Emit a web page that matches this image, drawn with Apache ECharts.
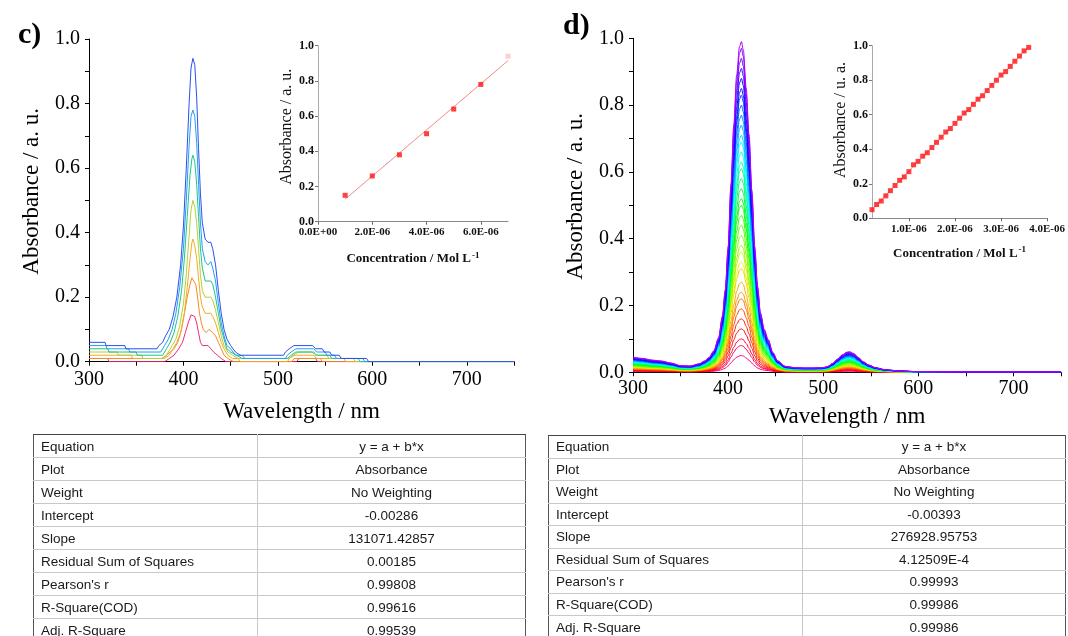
<!DOCTYPE html>
<html>
<head>
<meta charset="utf-8">
<script src="https://cdn.jsdelivr.net/npm/echarts@6.0.0/dist/echarts.min.js"></script>
<style>
html,body{margin:0;padding:0;background:#fff;}
#wrap{position:relative;width:1068px;height:636px;overflow:hidden;background:#fff;}
#chart{position:absolute;left:0;top:0;width:1068px;height:636px;}
.tbl{position:absolute;border-collapse:collapse;table-layout:fixed;font-family:"Liberation Sans",Arial,sans-serif;font-size:13.5px;color:#1a1a1a;border-top:1.5px solid #444;border-left:1.5px solid #555;border-right:1.5px solid #555;}
.tbl td{padding:0;line-height:21px;border-top:1px solid #c8c8c8;white-space:nowrap;overflow:hidden;box-sizing:border-box;}
.tbl td.k{padding-left:7px;text-align:left;border-right:1px solid #c8c8c8;}
.tbl td.v{text-align:center;}
</style>
</head>
<body>
<div id="wrap">
  <div id="chart"></div>
</div>
<script>
// ---------------- DATA ----------------
// Panel c: UV-vis spectra ([wavelength nm, absorbance])
const specC_magenta = [[300,0.01],[320,0.01],[321,0],[380,0],[385,0.01],[390,0.02],[395,0.04],[399,0.06],[402,0.09],[405,0.12],[408,0.145],[410,0.15],[412,0.14],[414,0.12],[416,0.09],[418,0.06],[420,0.05],[426,0.05],[429,0.04],[432,0.03],[436,0.02],[440,0.01],[445,0],[520,0],[522,0.01],[540,0.01],[542,0],[750,0]];
const specC_orange = [[300,0.01],[377,0.01],[382,0.02],[386,0.03],[390,0.04],[394,0.06],[398,0.10],[401,0.15],[404,0.20],[407,0.24],[409,0.26],[411,0.26],[413,0.24],[415,0.20],[417,0.15],[419,0.12],[421,0.10],[424,0.09],[427,0.10],[429,0.10],[431,0.09],[434,0.08],[437,0.06],[440,0.04],[443,0.02],[447,0.01],[453,0],[515,0],[517,0.01],[545,0.01],[547,0],[750,0]];
const specC_amber = [[300,0.02],[345,0.02],[346,0.01],[380,0.01],[385,0.02],[389,0.04],[393,0.06],[397,0.09],[401,0.15],[404,0.23],[407,0.32],[409,0.37],[410,0.38],[412,0.36],[414,0.32],[416,0.26],[418,0.20],[420,0.17],[423,0.15],[426,0.15],[429,0.15],[431,0.14],[434,0.12],[437,0.09],[440,0.06],[443,0.04],[447,0.02],[452,0.01],[458,0.01],[460,0],[510,0],[512,0.01],[518,0.02],[538,0.02],[541,0.01],[570,0.01],[572,0],[750,0]];
const specC_lime = [[300,0.03],[330,0.03],[331,0.02],[356,0.02],[357,0.01],[380,0.01],[384,0.03],[388,0.05],[392,0.07],[396,0.11],[400,0.18],[403,0.27],[406,0.39],[408,0.47],[410,0.50],[412,0.48],[414,0.43],[416,0.35],[418,0.27],[420,0.22],[423,0.20],[426,0.20],[429,0.20],[431,0.19],[434,0.16],[437,0.12],[440,0.08],[443,0.05],[447,0.03],[452,0.02],[458,0.01],[512,0.01],[516,0.02],[522,0.03],[536,0.03],[540,0.02],[552,0.02],[554,0.01],[580,0.01],[582,0],[750,0]];
const specC_teal = [[300,0.04],[320,0.04],[321,0.03],[350,0.03],[351,0.02],[378,0.02],[382,0.04],[386,0.06],[390,0.09],[394,0.14],[398,0.22],[401,0.32],[404,0.45],[407,0.58],[409,0.63],[410,0.64],[412,0.62],[414,0.55],[416,0.45],[418,0.35],[420,0.29],[423,0.25],[426,0.25],[429,0.25],[431,0.24],[434,0.20],[437,0.15],[440,0.10],[443,0.07],[446,0.04],[450,0.03],[456,0.02],[462,0.01],[510,0.01],[514,0.02],[519,0.03],[538,0.03],[541,0.02],[555,0.02],[557,0.01],[585,0.01],[587,0],[750,0]];
const specC_sky = [[300,0.05],[318,0.05],[319,0.04],[342,0.04],[343,0.03],[376,0.03],[380,0.05],[384,0.07],[388,0.10],[392,0.15],[396,0.23],[400,0.35],[403,0.50],[406,0.67],[408,0.76],[410,0.78],[412,0.76],[414,0.68],[416,0.55],[418,0.43],[420,0.35],[423,0.31],[426,0.30],[429,0.31],[431,0.29],[434,0.25],[437,0.18],[440,0.12],[443,0.08],[446,0.05],[450,0.04],[455,0.02],[462,0.02],[465,0.01],[508,0.01],[510,0.02],[514,0.03],[519,0.04],[538,0.04],[541,0.03],[550,0.03],[552,0.02],[560,0.02],[562,0.01],[590,0.01],[592,0],[750,0]];
const specC_blue = [[300,0.06],[317,0.06],[318,0.05],[338,0.05],[339,0.04],[372,0.04],[374,0.05],[378,0.06],[381,0.08],[385,0.10],[389,0.14],[393,0.20],[397,0.30],[400,0.42],[403,0.60],[406,0.80],[408,0.91],[410,0.94],[412,0.92],[414,0.82],[416,0.66],[418,0.52],[420,0.43],[423,0.38],[426,0.37],[429,0.37],[431,0.35],[434,0.30],[437,0.22],[440,0.15],[443,0.10],[446,0.07],[450,0.05],[455,0.03],[460,0.02],[506,0.02],[508,0.03],[512,0.04],[517,0.05],[537,0.05],[540,0.04],[547,0.04],[549,0.03],[555,0.03],[557,0.02],[565,0.02],[567,0.01],[594,0.01],[596,0],[750,0]];

// Panel c inset: calibration (concentration in 1E-6 mol/L, absorbance)
const concC = [1, 2, 3, 4, 5, 6, 7];
const absC  = [0.15, 0.26, 0.38, 0.50, 0.64, 0.78, 0.94];
const fitC_x = [1, 7];
const fitC_y = [0.128, 0.915];
const cInsetXTicks  = [0, 2, 4, 6];
const cInsetXLabels = ['0.0E+00', '2.0E-06', '4.0E-06', '6.0E-06'];

// Panel d inset: calibration
const concD = [0.2,0.3,0.4,0.5,0.6,0.7,0.8,0.9,1.0,1.1,1.2,1.3,1.4,1.5,1.6,1.7,1.8,1.9,2.0,2.1,2.2,2.3,2.4,2.5,2.6,2.7,2.8,2.9,3.0,3.1,3.2,3.3,3.4,3.5,3.6];
const absD  = [0.05,0.08,0.10,0.13,0.16,0.19,0.22,0.24,0.27,0.31,0.33,0.36,0.38,0.41,0.44,0.47,0.50,0.52,0.55,0.58,0.61,0.63,0.66,0.69,0.71,0.74,0.77,0.80,0.83,0.85,0.88,0.91,0.94,0.97,0.99];
const fitD_x = [0.2, 3.6];
const fitD_y = [0.051, 0.993];
const dInsetXTicks  = [1, 2, 3, 4];
const dInsetXLabels = ['1.0E-06', '2.0E-06', '3.0E-06', '4.0E-06'];

// Panel d spectra: normalised band shape scaled by each sample's absorbance (absD)
const wlD = [300,310,320,330,340,350,360,370,375,380,385,390,394,397,400,403,406,409,412,414,416,419,422,425,428,431,434,438,442,447,452,460,470,480,490,500,505,510,515,520,525,528,532,537,542,548,555,565,580,600,650,700,750];
const shapeD = [0.046,0.042,0.037,0.034,0.028,0.020,0.019,0.026,0.034,0.045,0.065,0.105,0.17,0.25,0.38,0.57,0.75,0.90,0.985,1.0,0.975,0.86,0.72,0.55,0.38,0.26,0.18,0.13,0.10,0.06,0.035,0.018,0.014,0.013,0.013,0.014,0.018,0.027,0.04,0.053,0.061,0.062,0.057,0.045,0.032,0.022,0.014,0.008,0.004,0.002,0.001,0.001,0.001];

// Tables
const tableKeys = ['Equation','Plot','Weight','Intercept','Slope','Residual Sum of Squares',"Pearson's r",'R-Square(COD)','Adj. R-Square'];
const tableValsC = ['y = a + b*x','Absorbance','No Weighting','-0.00286','131071.42857','0.00185','0.99808','0.99616','0.99539'];
const tableValsD = ['y = a + b*x','Absorbance','No Weighting','-0.00393','276928.95753','4.12509E-4','0.99993','0.99986','0.99986'];

// ---------------- STYLE / BUILD ----------------
const SERIF = '"Liberation Serif","Times New Roman",serif';
const specC = [specC_magenta, specC_orange, specC_amber, specC_lime, specC_teal, specC_sky, specC_blue];
const colorsC = ['#ec2b7e', '#f48a25', '#f4aa22', '#b3d136', '#1fc482', '#1fa0f0', '#2d4ff3'];

function mainX(gi, gap, margin) {
  return {gridIndex: gi, type: 'value', min: 300, max: 750, interval: 50,
    axisLine: {show: true, onZero: false, lineStyle: {color: '#000', width: 1}},
    axisTick: {show: true, length: 4, lineStyle: {color: '#000'}},
    splitLine: {show: false},
    axisLabel: {margin: margin, fontFamily: SERIF, fontSize: 20, color: '#000',
      formatter: v => (Math.round(v) % 100 === 0 ? String(Math.round(v)) : '')},
    name: 'Wavelength / nm', nameLocation: 'middle', nameGap: gap,
    nameTextStyle: {fontFamily: SERIF, fontSize: 23, color: '#000'}};
}
function mainY(gi) {
  return {gridIndex: gi, type: 'value', min: 0, max: 1, interval: 0.1,
    axisLine: {show: true, onZero: false, lineStyle: {color: '#000', width: 1}},
    axisTick: {show: true, length: 4, lineStyle: {color: '#000'}},
    splitLine: {show: false},
    axisLabel: {margin: 9, fontFamily: SERIF, fontSize: 20, color: '#000',
      formatter: v => (Math.round(v * 10) % 2 === 0 ? v.toFixed(1) : '')},
    name: 'Absorbance / a. u.', nameLocation: 'middle', nameGap: 46, nameRotate: 90,
    nameTextStyle: {fontFamily: SERIF, fontSize: 23, color: '#000', padding: [0, 0, 0, 18]}};
}
function insetX(gi, min, max, ticks, labels, gap) {
  return {gridIndex: gi, type: 'value', min: min, max: max,
    axisLine: {show: true, onZero: false, lineStyle: {color: '#888', width: 1}},
    axisTick: {show: true, length: 3, customValues: ticks, lineStyle: {color: '#666'}},
    splitLine: {show: false},
    axisLabel: {margin: 5, customValues: ticks, fontFamily: SERIF, fontSize: 11, fontWeight: 'bold', color: '#111',
      formatter: v => { const i = ticks.findIndex(t => Math.abs(t - v) < 1e-6); return i >= 0 ? labels[i] : ''; }},
    name: '{b|Concentration / Mol L}{s|-1}', nameLocation: 'middle', nameGap: gap,
    nameTextStyle: {rich: {
      b: {fontFamily: SERIF, fontSize: 13, fontWeight: 'bold', color: '#111', lineHeight: 16},
      s: {fontFamily: SERIF, fontSize: 9, fontWeight: 'bold', color: '#111', verticalAlign: 'top', lineHeight: 16, padding: [0, 0, 8, 1]}
    }}};
}
function insetY(gi, name, gap, lift) {
  return {gridIndex: gi, type: 'value', min: 0, max: 1, interval: 0.2,
    axisLine: {show: true, onZero: false, lineStyle: {color: '#aaa', width: 1}},
    axisTick: {show: true, length: 3, lineStyle: {color: '#777'}},
    splitLine: {show: false},
    axisLabel: {margin: 4, fontFamily: SERIF, fontSize: 12, fontWeight: 'bold', color: '#111', formatter: v => v.toFixed(1)},
    name: name, nameLocation: 'middle', nameGap: gap, nameRotate: 90,
    nameTextStyle: {fontFamily: SERIF, fontSize: 16, color: '#111', padding: [0, 0, 0, lift]}};
}

const series = [];
specC.forEach((d, i) => series.push({type: 'line', xAxisIndex: 0, yAxisIndex: 0, data: d, symbol: 'none',
  lineStyle: {width: 1, color: colorsC[i]}, itemStyle: {color: colorsC[i]}, z: 2 + i}));

// inset c
series.push({type: 'line', xAxisIndex: 1, yAxisIndex: 1, symbol: 'none', data: fitC_x.map((x, i) => [x, fitC_y[i]]),
  lineStyle: {width: 1, color: '#f28a8a'}, z: 3});
series.push({type: 'scatter', xAxisIndex: 1, yAxisIndex: 1, symbol: 'rect', symbolSize: 5, clip: false,
  data: concC.map((x, i) => ({value: [x, absC[i]], itemStyle: {color: i === concC.length - 1 ? '#ffc4c4' : '#ff1010'}})), z: 4});

// d spectra
const nD = absD.length;
absD.forEach((a, i) => {
  const t = i / (nD - 1);
  const hue = (330 + 310 * t) % 360;
  const col = 'hsl(' + hue.toFixed(0) + ',100%,' + (hue > 40 && hue < 80 ? 47 : 50) + '%)';
  series.push({type: 'line', xAxisIndex: 2, yAxisIndex: 2, symbol: 'none', smooth: 0.3, smoothMonotone: 'x',
    data: wlD.map((w, k) => [w, +(shapeD[k] * a).toFixed(4)]),
    lineStyle: {width: 1, color: col}, itemStyle: {color: col}, z: 2});
});

// inset d
series.push({type: 'line', xAxisIndex: 3, yAxisIndex: 3, symbol: 'none', data: fitD_x.map((x, i) => [x, fitD_y[i]]),
  lineStyle: {width: 1, color: '#f7a0a0'}, z: 3});
series.push({type: 'scatter', xAxisIndex: 3, yAxisIndex: 3, symbol: 'rect', symbolSize: 5,
  data: concD.map((x, i) => [x, absD[i]]), itemStyle: {color: '#ff1010'}, z: 4});

const option = {
  animation: false,
  backgroundColor: '#fff',
  grid: [
    {left: 89, top: 39, width: 425, height: 322.7},
    {left: 318, top: 45.7, width: 190, height: 176},
    {left: 633, top: 38.3, width: 428, height: 334},
    {left: 872, top: 45.7, width: 180, height: 172.6}
  ],
  xAxis: [
    mainX(0, 39, 8),
    insetX(1, 0, 7, cInsetXTicks, cInsetXLabels, 29),
    mainX(2, 33, 6),
    insetX(3, 0.2, 4, dInsetXTicks, dInsetXLabels, 27)
  ],
  yAxis: [
    mainY(0),
    insetY(1, 'Absorbance / a. u.', 20, 14),
    mainY(2),
    insetY(3, 'Absorbance / u. a.', 21, 24)
  ],
  graphic: [
    {type: 'text', left: 18, top: 20, style: {text: 'c)', fontFamily: SERIF, fontSize: 30, fontWeight: 'bold', fill: '#000'}},
    {type: 'text', left: 563, top: 11, style: {text: 'd)', fontFamily: SERIF, fontSize: 30, fontWeight: 'bold', fill: '#000'}}
  ],
  series: series
};

const chart = echarts.init(document.getElementById('chart'), null, {renderer: 'canvas'});
chart.setOption(option);

function buildTable(left, top, width, col1, rowH, keys, vals) {
  const t = document.createElement('table');
  t.className = 'tbl';
  t.style.left = left + 'px';
  t.style.top = top + 'px';
  t.style.width = width + 'px';
  const cg = document.createElement('colgroup');
  const c1 = document.createElement('col'); c1.style.width = col1 + 'px';
  const c2 = document.createElement('col'); c2.style.width = (width - col1) + 'px';
  cg.appendChild(c1); cg.appendChild(c2); t.appendChild(cg);
  keys.forEach((k, i) => {
    const tr = document.createElement('tr');
    const a = document.createElement('td'); a.className = 'k'; a.textContent = k;
    const b = document.createElement('td'); b.className = 'v'; b.textContent = vals[i];
    a.style.height = rowH + 'px'; b.style.height = rowH + 'px';
    if (i === 0) { a.style.borderTop = 'none'; b.style.borderTop = 'none'; }
    tr.appendChild(a); tr.appendChild(b); t.appendChild(tr);
  });
  document.getElementById('wrap').appendChild(t);
}
buildTable(33, 434, 492, 224, 23, tableKeys, tableValsC);
buildTable(548, 435, 517, 254, 22.5, tableKeys, tableValsD);
</script>
</body>
</html>
